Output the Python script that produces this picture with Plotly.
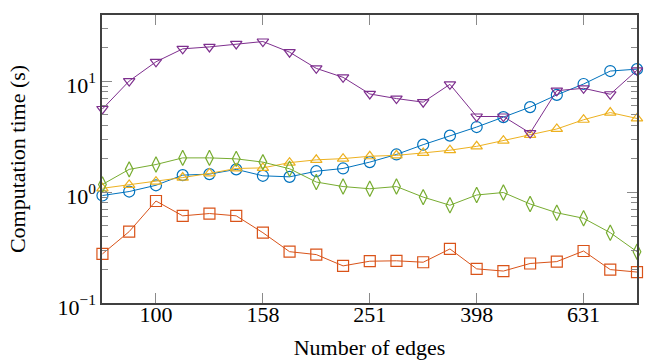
import plotly.graph_objects as go

edges = [79.4, 89.1, 100, 112.2, 125.9, 141.3, 158.5, 177.8, 199.5, 223.9, 251.2,
         281.8, 316.2, 354.8, 398.1, 446.7, 501.2, 562.3, 631.0, 707.9, 794.3]

blue = [0.93, 1.01, 1.15, 1.42, 1.45, 1.60, 1.40, 1.37, 1.54, 1.63, 1.86,
        2.18, 2.67, 3.22, 3.85, 4.73, 5.82, 7.5, 9.4, 12.3, 12.8]
orange = [0.277, 0.44, 0.83, 0.61, 0.64, 0.61, 0.43, 0.29, 0.273, 0.216, 0.238,
          0.24, 0.233, 0.307, 0.203, 0.194, 0.227, 0.236, 0.294, 0.20, 0.19]
yellow = [1.08, 1.16, 1.24, 1.35, 1.47, 1.63, 1.65, 1.84, 1.95, 2.0, 2.10,
          2.14, 2.25, 2.38, 2.58, 2.90, 3.27, 3.70, 4.48, 5.2, 4.6]
green = [1.17, 1.6, 1.77, 2.03, 2.03, 1.99, 1.86, 1.62, 1.23, 1.12, 1.07,
         1.12, 0.90, 0.76, 0.94, 0.99, 0.78, 0.65, 0.58, 0.43, 0.29]
purple = [5.6, 10.0, 14.9, 19.5, 20.3, 21.6, 22.7, 18.2, 13.0, 10.8, 7.65,
          6.95, 6.45, 9.34, 4.79, 4.79, 3.40, 8.19, 8.6, 7.6, 12.5]

x_tickvals = [100, 158.5, 251.2, 398.1, 631.0]
x_ticktext = ["100", "158", "251", "398", "631"]
y_tickvals = [0.1, 1, 10]
y_ticktext = ["10<sup>\u22121</sup>", "10<sup>0</sup>", "10<sup>1</sup>"]

series = [
    (blue, "#0072BD", "circle-open", 11),
    (orange, "#D95319", "square-open", 11),
    (yellow, "#EDB120", "triangle-up-open", 10),
    (green, "#77AC30", "diamond-tall-open", 11),
    (purple, "#7E2F8E", "triangle-down-open", 10),
]

fig = go.Figure()
for vals, col, sym, sz in series:
    fig.add_trace(go.Scatter(
        x=edges, y=vals, mode="lines+markers", cliponaxis=False,
        line=dict(color=col, width=1),
        marker=dict(symbol=sym, size=sz, color=col, line=dict(color=col, width=1.2)),
        showlegend=False,
    ))

serif = "Liberation Serif, Times New Roman, serif"
fig.update_layout(
    width=646, height=360,
    margin=dict(l=102, r=9, t=15, b=57),
    paper_bgcolor="white", plot_bgcolor="white",
    font=dict(family=serif, size=22, color="black"),
    xaxis=dict(
        type="log", range=[1.899, 2.9], automargin=False,
        tickvals=x_tickvals, ticktext=x_ticktext,
        tickfont=dict(family=serif, size=22, color="black"),
        ticklabelstandoff=-9,
        ticks="inside", ticklen=10, tickcolor="#8a8a8a", tickwidth=1,
        showline=True, linecolor="#404040", linewidth=1.5, mirror="ticks",
        showgrid=False, zeroline=False,
        title=dict(text="Number of edges", standoff=16,
                   font=dict(family=serif, size=22, color="black")),
    ),
    yaxis=dict(
        type="log", range=[-1, 1.595], automargin=False,
        tickvals=y_tickvals, ticktext=y_ticktext,
        tickfont=dict(family=serif, size=22, color="black"),
        ticklabelshift=4,
        ticks="inside", ticklen=10, tickcolor="#8a8a8a", tickwidth=1,
        showline=True, linecolor="#404040", linewidth=1.5, mirror="ticks",
        showgrid=False, zeroline=False,
        minor=dict(ticks="inside", ticklen=6, tickcolor="#8a8a8a", dtick="D1", showgrid=False),
        title=dict(text="Computation time (s)", standoff=26,
                   font=dict(family=serif, size=22, color="black")),
    ),
)
fig.write_html(
    "out.html",
    config={"displayModeBar": False},
    post_script="document.body.style.margin='0';document.documentElement.style.overflow='hidden';",
)
